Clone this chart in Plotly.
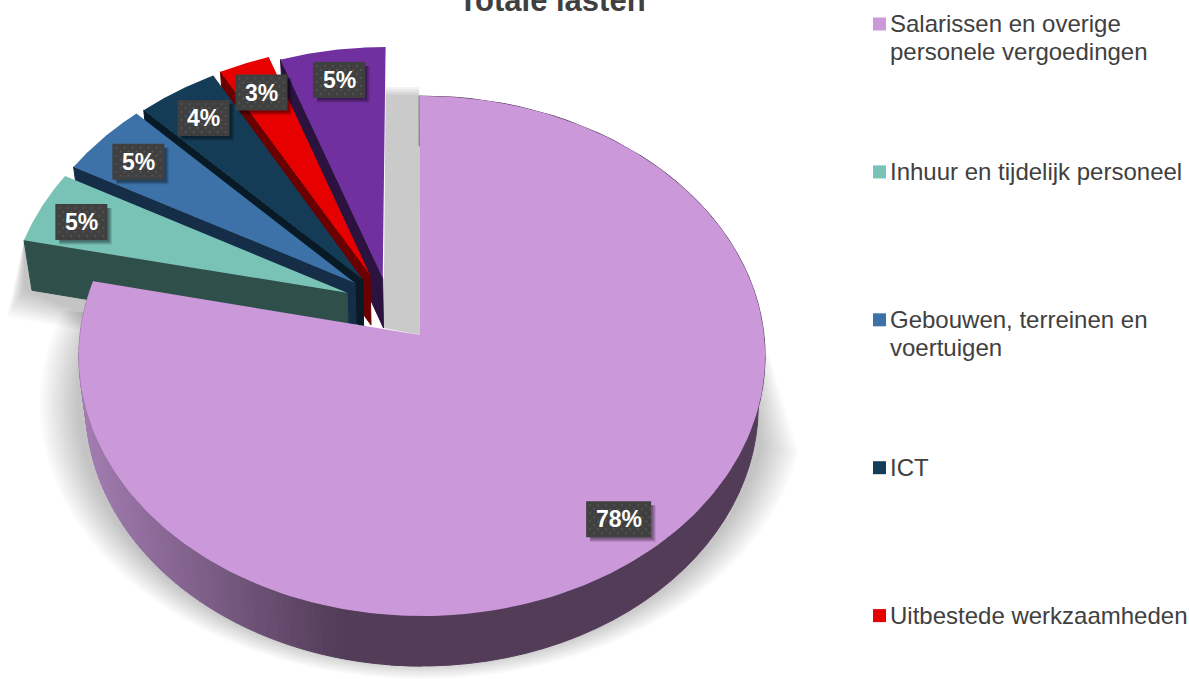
import math
import plotly.graph_objects as go

# ---- data ----
TITLE = "Totale lasten"
LEGEND_LABELS = [
    "Salarissen en overige\npersonele vergoedingen",
    "Inhuur en tijdelijk personeel",
    "Gebouwen, terreinen en\nvoertuigen",
    "ICT",
    "Uitbestede werkzaamheden",
]
SHARES = [78.4, 4.6, 4.7, 4.2, 2.65, 5.45]

# ---- style ----
TOP_COLORS = ["#cb98d9", "#78c2b6", "#3c72a8", "#143c57", "#e60000", "#7030a0"]
WALL_COLORS = ["#523c58", "#2f4f4a", "#152d47", "#071a26", "#6b0000", "#2c133f"]
EXPLODE = [(0, 0), (-.222, -.166), (-.199, -.205), (-.177, -.220), (-.155, -.237), (-.117, -.225)]
LABEL_R = [.866, .86, .845, .85, .855, .86]
LABEL_DA = [0, -1, -.6, 0, 0, 0]
TEXT = "#404040"
FONT = "Liberation Sans, Arial, sans-serif"
W, H = 1189, 679

# perspective projection of the pie plane
AX, AY, A, B, K = 422, 335, 258.3, 342, .0808
DEPTH, XS = 50, .98
START = -0.5   # the main slice's first edge leans very slightly


def proj(u, v):
    d = 1 - K * v
    return AX + B * u / d, AY + A * v / d


def pt(theta, r, off):
    t = math.radians(theta)
    return proj(off[0] + r * math.sin(t), off[1] - r * math.cos(t))


def low(p):
    return AX + XS * (p[0] - AX), p[1] + DEPTH


def mix(c1, c2, f):
    a = [int(c1[i:i + 2], 16) for i in (1, 3, 5)]
    b = [int(c2[i:i + 2], 16) for i in (1, 3, 5)]
    return "#%02x%02x%02x" % tuple(round(x + (y - x) * f) for x, y in zip(a, b))


fig = go.Figure()


def poly(points, fill, line=None):
    xs = [p[0] for p in points] + [points[0][0]]
    ys = [p[1] for p in points] + [points[0][1]]
    fig.add_trace(go.Scatter(
        x=xs, y=ys, mode="lines", fill="toself", fillcolor=fill,
        line=dict(color=line or "rgba(0,0,0,0)", width=1 if line else 0),
        hoverinfo="skip", showlegend=False))


# slice boundaries from the shares
bounds = [0]
for s in SHARES:
    bounds.append(bounds[-1] + s * 3.6)


def arc(a0, a1, r, off, n=60):
    return [pt(a0 + (a1 - a0) * i / n, r, off) for i in range(n + 1)]


# ---- soft shadows ----
LAYERS = 12
ALPHA = "rgba(0,0,0,.019)"
for i in range(LAYERS):
    f = 1 - i / (LAYERS - 1)
    rx, ry = 345 + 37 * f, 258 + 17 * f
    pts = [(AX, AY + 8), pt(72, 1, EXPLODE[0])]
    for k in range(91):
        t = math.radians(10 + 190 * k / 90)
        pts.append((422 + rx * math.cos(t), 404 + ry * math.sin(t)))
    poly(pts, ALPHA)
    # exploded teal slice shadow, left of the pie
    c_top = pt(bounds[1], 1, EXPLODE[1])
    c_low = low(c_top)
    poly([c_top, (c_top[0] - 17 * f, c_low[1] + 26 * f), (c_low[0] + 70, c_low[1] + 30 + 14 * f), (c_low[0] + 70, c_low[1])], ALPHA)

# shadow in the gap between the purple slice and the main slice
gap_apex = pt(0, 0, EXPLODE[5])
gap_rim = pt(360, 1, EXPLODE[5])
main_rim = pt(START, 1, EXPLODE[0])
for i in range(5):
    lift = 9 - 2 * i
    poly([(gap_rim[0], main_rim[1] - lift), (main_rim[0], main_rim[1] - lift),
          (AX - 2, AY), low(gap_apex)], "rgba(0,0,0,.045)")

# ---- exploded slices, back to front ----
for idx in range(len(SHARES) - 1, 0, -1):
    off, a0, a1 = EXPLODE[idx], bounds[idx], bounds[idx + 1]
    apex, rim = pt(0, 0, off), pt(a0, 1, off)
    poly([rim, apex, low(apex), low(rim)], WALL_COLORS[idx], WALL_COLORS[idx])
    poly([apex] + arc(a0, a1, 1, off), TOP_COLORS[idx])

# ---- main slice wall with gradient on its left side ----
end = bounds[1]
right = arc(START, 185, 1, EXPLODE[0])
poly(right + [low(p) for p in reversed(right)], WALL_COLORS[0], WALL_COLORS[0])
STEPS = 96
for j in range(STEPS):
    a0 = 180 + (end - 180) * j / STEPS
    a1 = 180 + (end - 180) * (j + 1) / STEPS
    seg = arc(a0, a1, 1, EXPLODE[0], 3)
    xm = seg[1][0]
    f = min(1, max(0, (340 - xm) / 255))
    col = mix(WALL_COLORS[0], "#a27cb0", f)
    poly(seg + [low(p) for p in reversed(seg)], col, col)

poly([(AX - 2, AY)] + arc(START, end, 1, EXPLODE[0], 240), TOP_COLORS[0])

# ---- data labels ----
annotations = []
dot_x, dot_y = [], []
for idx, s in enumerate(SHARES):
    mid = (bounds[idx] + bounds[idx + 1]) / 2 + LABEL_DA[idx]
    cx, cy = pt(mid, LABEL_R[idx], EXPLODE[idx])
    label = f"{s:.0f}%"
    bw, bh = (65 if len(label) == 3 else 52), 36
    x0, x1, y0, y1 = cx - bw / 2, cx + bw / 2, cy - bh / 2, cy + bh / 2
    for n in range(4):
        d = 1.5 + n
        poly([(x0 + 4, y0 + 4), (x1 + d, y0 + 4), (x1 + d, y1 + d), (x0 + 4, y1 + d)], "rgba(0,0,0,.13)")
    poly([(x0, y0), (x1, y0), (x1, y1), (x0, y1)], "#404040")
    row = 0
    yy = y0 + 4
    while yy < y1:
        xx = x0 + (4 if row % 2 == 0 else 8)
        while xx < x1:
            dot_x.append(xx)
            dot_y.append(yy)
            xx += 8
        yy += 4
        row += 1
    annotations.append(dict(x=cx, y=cy, xref="x", yref="y", text=f"<b>{label}</b>", showarrow=False,
                            font=dict(family=FONT, size=23, color="white"),
                            xanchor="center", yanchor="middle"))

fig.add_trace(go.Scatter(x=dot_x, y=dot_y, mode="markers",
                         marker=dict(size=2, color="#575757", symbol="circle", line=dict(width=0)),
                         hoverinfo="skip", showlegend=False))

# ---- legend, drawn in the reference's spacing ----
LEG_X, LEG_Y, LEG_STEP, LINE = 879.5, 24, 147.9, 28
fig.add_trace(go.Scatter(
    x=[LEG_X] * len(LEGEND_LABELS),
    y=[LEG_Y + i * LEG_STEP for i in range(len(LEGEND_LABELS))],
    mode="markers",
    marker=dict(symbol="square", size=13, color=TOP_COLORS[:len(LEGEND_LABELS)], line=dict(width=0)),
    hoverinfo="skip", showlegend=False))
for i, lab in enumerate(LEGEND_LABELS):
    for n, part in enumerate(lab.split("\n")):
        annotations.append(dict(x=LEG_X + 8.5, y=LEG_Y - 0.5 + i * LEG_STEP + n * LINE, xref="x", yref="y",
                                text=part, showarrow=False, xanchor="left", yanchor="middle",
                                font=dict(family=FONT, size=24, color=TEXT)))

fig.update_layout(
    width=W, height=H, margin=dict(l=0, r=0, t=0, b=0),
    paper_bgcolor="white", plot_bgcolor="rgba(0,0,0,0)", showlegend=False,
    title=dict(text=f"<b>{TITLE}</b>", x=552 / W, xanchor="center", y=1.0, yanchor="middle",
               font=dict(family=FONT, size=31, color=TEXT)),
    xaxis=dict(range=[0, W], visible=False, fixedrange=True),
    yaxis=dict(range=[H, 0], visible=False, fixedrange=True),
    annotations=annotations,
)
fig.write_html("out.html", config=dict(displayModeBar=False),
               post_script="document.body.style.margin='0';document.body.style.overflow='hidden';")
